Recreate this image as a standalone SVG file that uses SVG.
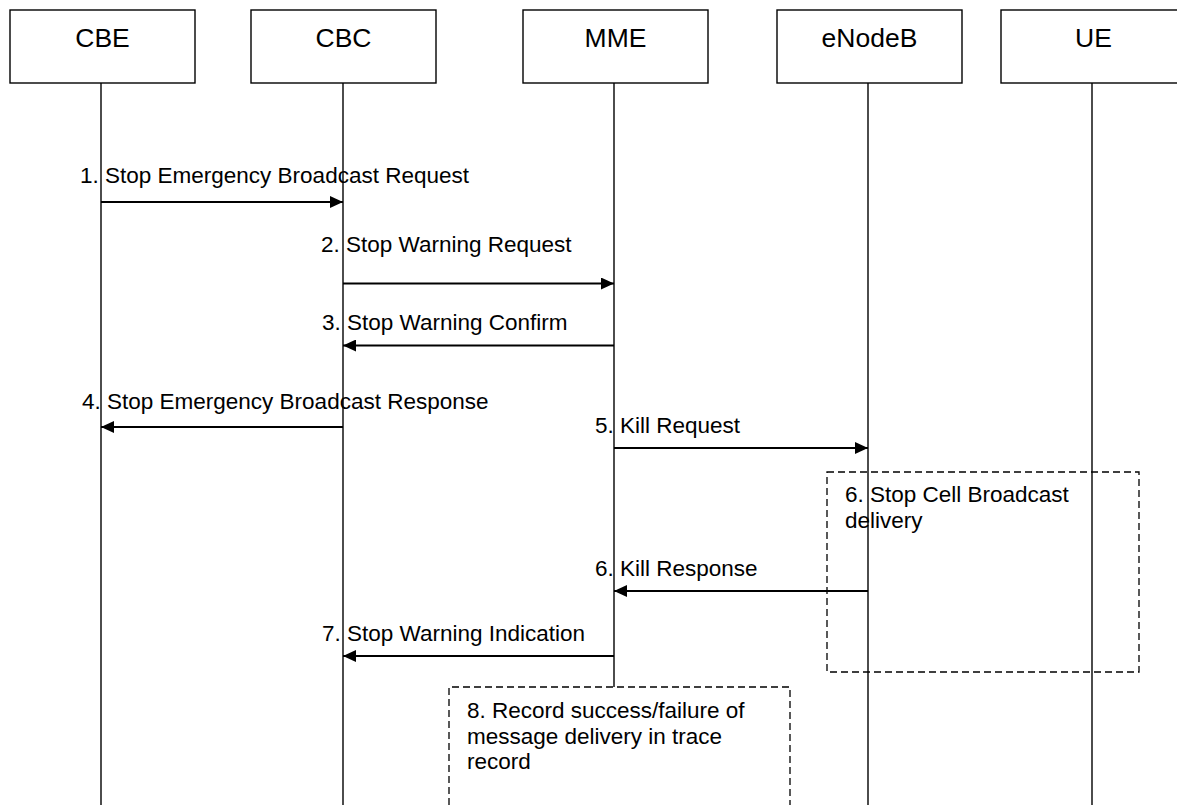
<svg xmlns="http://www.w3.org/2000/svg" width="1177" height="805" viewBox="0 0 1177 805">
<style>
.box{fill:#fff;stroke:#000;stroke-width:1.4}
.hdr{font-family:"Liberation Sans",Arial,sans-serif;font-size:26.5px;text-anchor:middle;fill:#000}
.life{stroke:#000;stroke-width:1.4;fill:none}
.msg{stroke:#000;stroke-width:2;fill:none;marker-end:url(#ah)}
.lbl{font-family:"Liberation Sans",Arial,sans-serif;font-size:22.5px;fill:#000}
.note{fill:none;stroke:#000;stroke-width:1.3;stroke-dasharray:7,4}
</style>
<defs>
<marker id="ah" viewBox="0 0 13 12" refX="13" refY="6" markerWidth="13" markerHeight="12" markerUnits="userSpaceOnUse" orient="auto">
<path d="M0,0 L13,6 L0,12 z" fill="#000"/>
</marker>
</defs>
<rect width="1177" height="805" fill="#fff"/>
<g id="lifelines">
<line class="life" x1="101" y1="83" x2="101" y2="805"/>
<line class="life" x1="343" y1="83" x2="343" y2="805"/>
<line class="life" x1="614" y1="83" x2="614" y2="687"/>
<line class="life" x1="868" y1="83" x2="868" y2="805"/>
<line class="life" x1="1092" y1="83" x2="1092" y2="805"/>
</g>
<g id="CBE"><rect class="box" x="10" y="10" width="185" height="73"/><text class="hdr" x="102.5" y="47">CBE</text></g>
<g id="CBC"><rect class="box" x="251" y="10" width="185" height="73"/><text class="hdr" x="343.5" y="47">CBC</text></g>
<g id="MME"><rect class="box" x="523" y="10" width="185" height="73"/><text class="hdr" x="615.5" y="47">MME</text></g>
<g id="eNodeB"><rect class="box" x="777" y="10" width="185" height="73"/><text class="hdr" x="869.5" y="47">eNodeB</text></g>
<g id="UE"><rect class="box" x="1001" y="10" width="185" height="73"/><text class="hdr" x="1093.5" y="47">UE</text></g>
<g id="note6">
<rect class="note" x="827" y="472" width="312" height="200"/>
<text class="lbl" x="845" y="502">6. Stop Cell Broadcast</text>
<text class="lbl" x="845" y="528">delivery</text>
</g>
<g id="note8">
<path class="note" d="M449,805 L449,687 L790,687 L790,805"/>
<text class="lbl" x="467" y="718">8. Record success/failure of</text>
<text class="lbl" x="467" y="744">message delivery in trace</text>
<text class="lbl" x="467" y="769">record</text>
</g>
<g id="connectors">
<line class="msg" x1="101" y1="202" x2="343" y2="202"/>
<text class="lbl" x="80" y="183">1. Stop Emergency Broadcast Request</text>
<line class="msg" x1="343" y1="283.5" x2="614" y2="283.5"/>
<text class="lbl" x="321" y="252">2. Stop Warning Request</text>
<line class="msg" x1="614" y1="345.5" x2="343" y2="345.5"/>
<text class="lbl" x="322" y="330">3. Stop Warning Confirm</text>
<line class="msg" x1="343" y1="427" x2="101" y2="427"/>
<text class="lbl" x="82" y="409">4. Stop Emergency Broadcast Response</text>
<line class="msg" x1="614" y1="448" x2="868" y2="448"/>
<text class="lbl" x="595" y="433">5. Kill Request</text>
<line class="msg" x1="868" y1="591" x2="614" y2="591"/>
<text class="lbl" x="595" y="576">6. Kill Response</text>
<line class="msg" x1="614" y1="656" x2="343" y2="656"/>
<text class="lbl" x="322" y="641">7. Stop Warning Indication</text>
</g>
</svg>
